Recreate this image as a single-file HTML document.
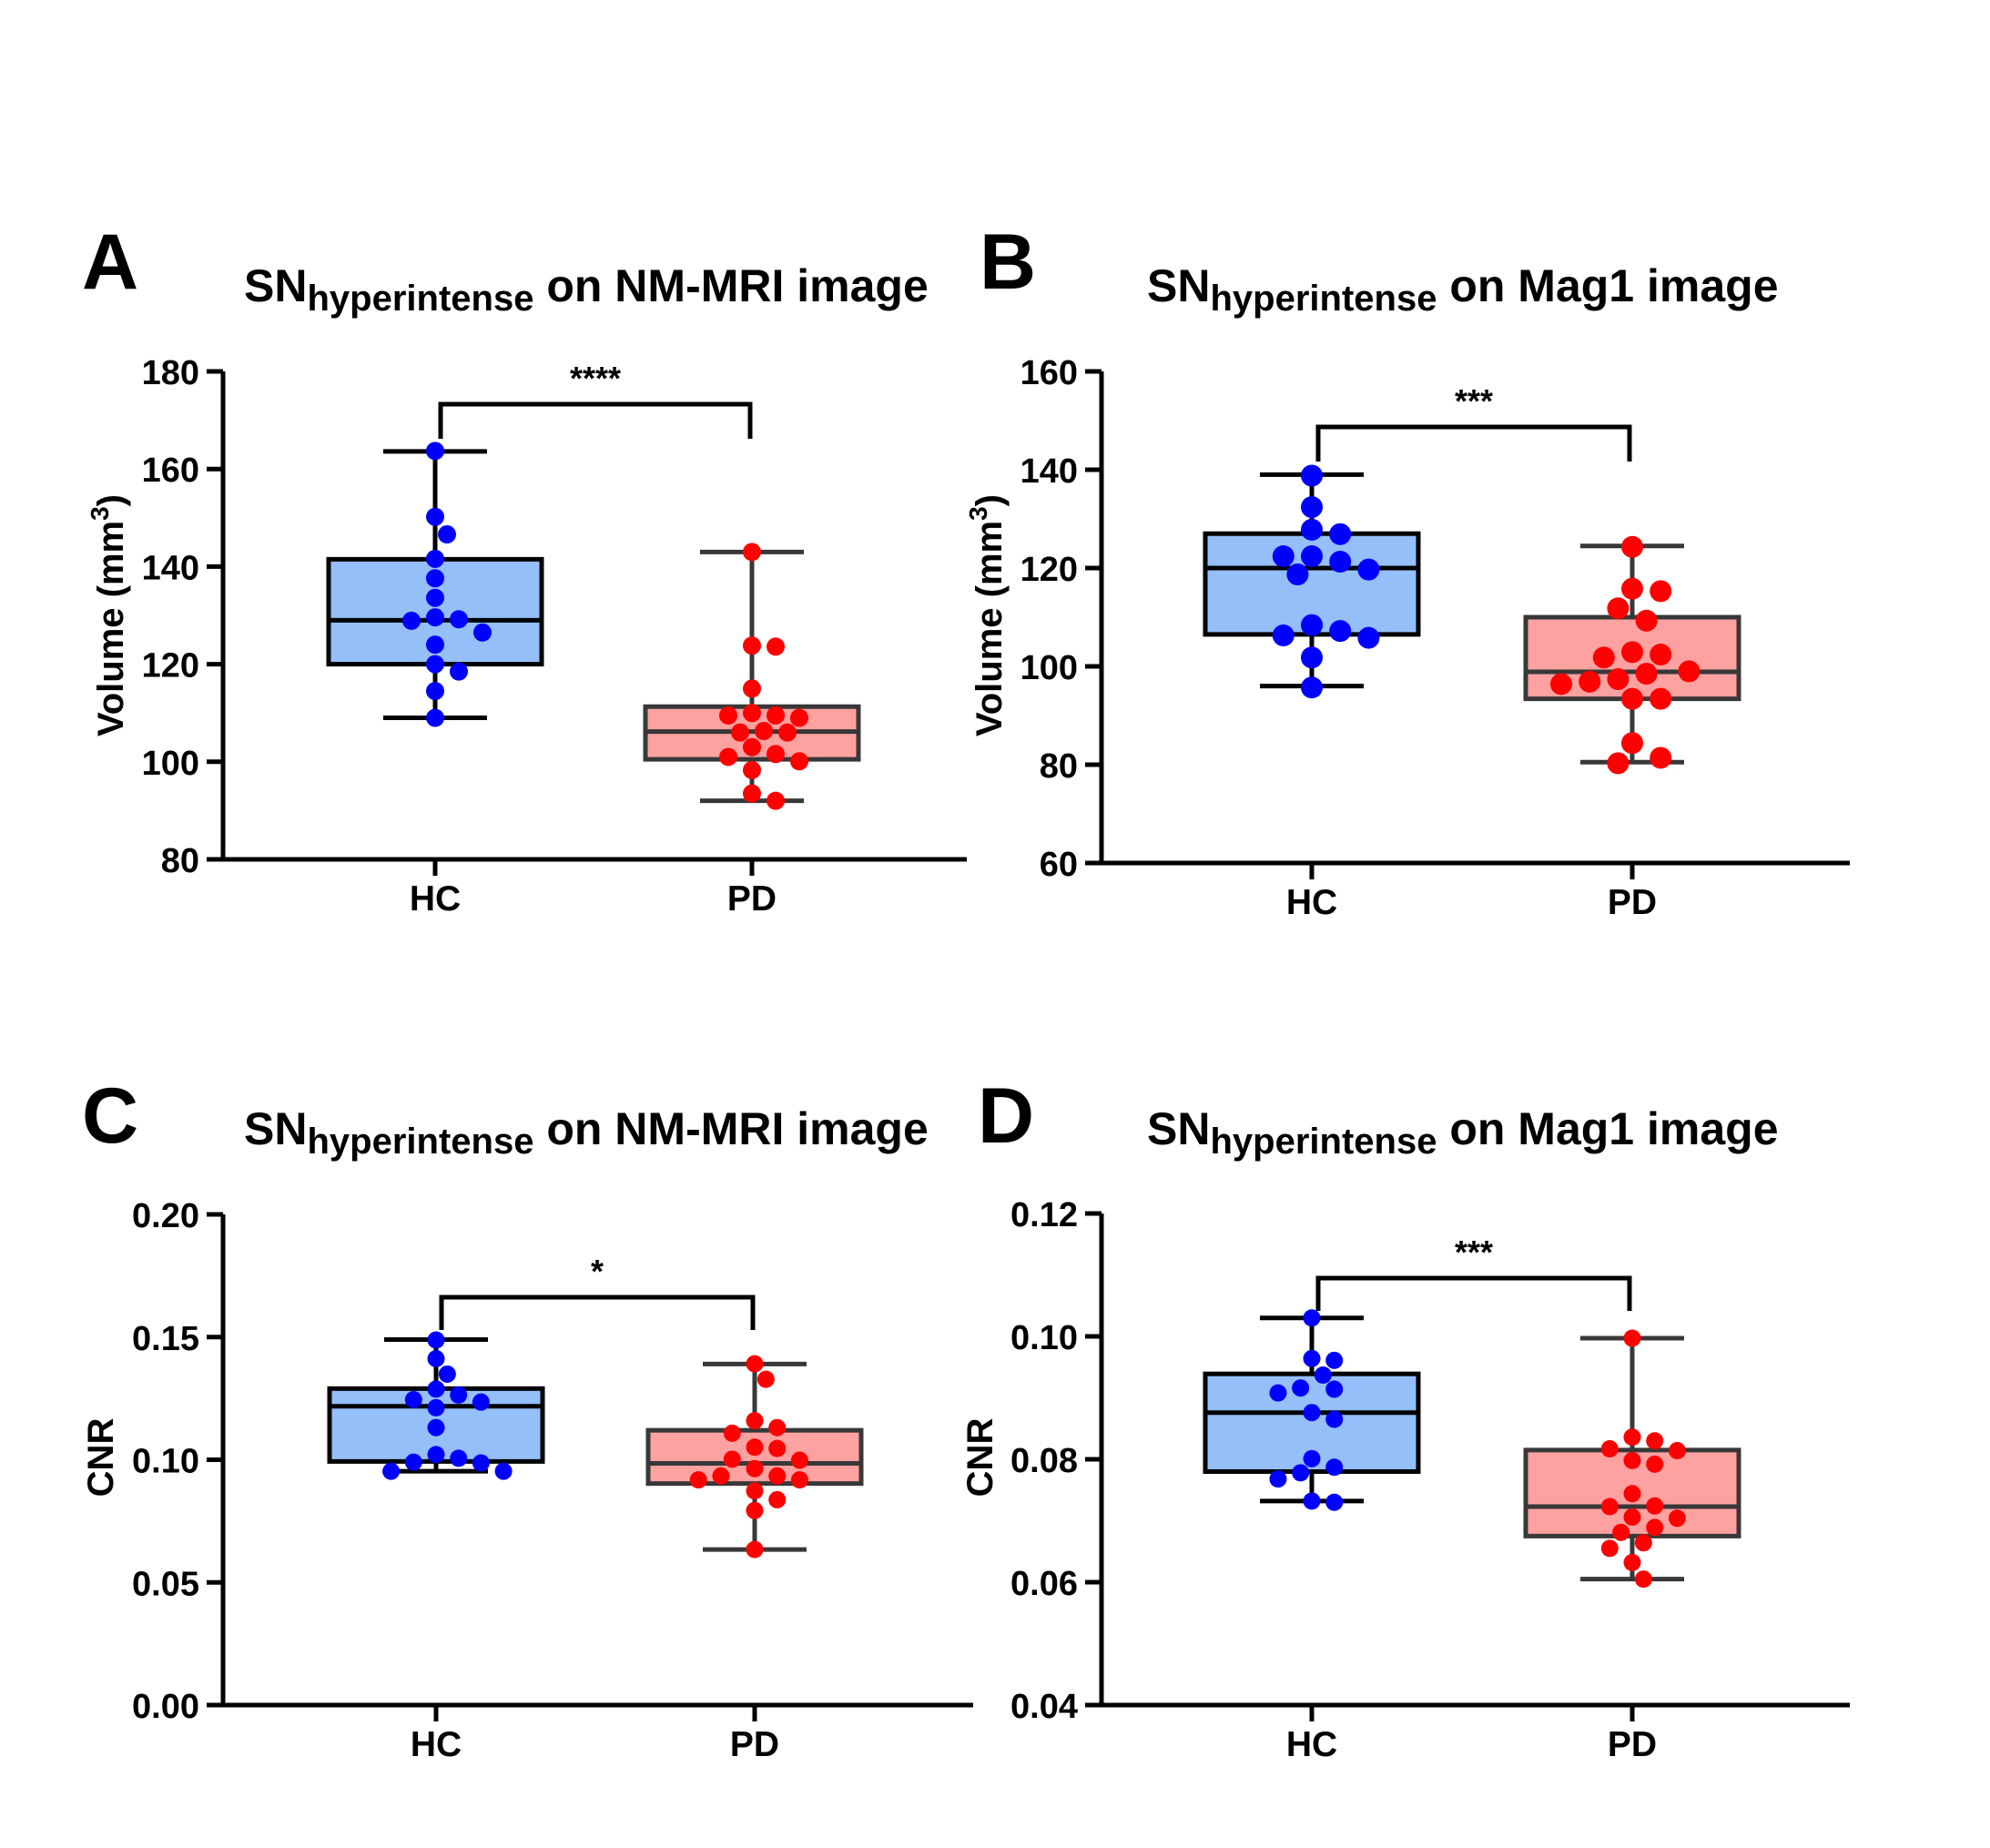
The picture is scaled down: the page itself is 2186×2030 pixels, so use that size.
<!DOCTYPE html>
<html><head><meta charset="utf-8"><style>
html,body{margin:0;padding:0;background:#fff;}
svg{display:block;font-family:"Liberation Sans",Arial,sans-serif;font-weight:bold;}
</style></head><body>
<svg id="fig" width="2186" height="2030" viewBox="0 0 2186 2030" xmlns="http://www.w3.org/2000/svg"></svg>
<script>
// ---- data ----
const groups = ["HC", "PD"];
const aTicks = [80, 100, 120, 140, 160, 180];
const aHC = [163.7,150.2,146.6,141.6,137.6,133.6,129.6,128.9,129.2,126.5,124.0,120.0,118.5,114.5,109.0];
const aPD = [143,123.6,123.8,115,110,109.5,109,109.5,106.3,106,106,103,101.6,100.1,101,98.3,93.5,92];
const aBoxHC = [109, 120, 129, 141.5, 163.6];
const aBoxPD = [92, 100.5, 106.2, 111.3, 143];
const bTicks = [60, 80, 100, 120, 140, 160];
const bHC = [138.8,132.4,127.8,126.9,122.4,121.3,122.4,118.7,119.7,108.4,106.3,105.8,107.2,101.8,95.7];
const bPD = [124.3,115.3,115.8,111.8,109.3,102.9,101.8,102.4,98.5,99,96.9,96.4,97.4,93.4,93.4,84.4,80.3,81.4];
const bBoxHC = [96, 106.5, 120, 127, 139];
const bBoxPD = [80.5, 93.4, 98.9, 110, 124.5];
const cTicks = [0, 0.05, 0.10, 0.15, 0.20];
const cTickLabels = ["0.00","0.05","0.10","0.15","0.20"];
const cHC = [0.1488,0.1412,0.1349,0.1288,0.1264,0.1235,0.1212,0.1245,0.1131,0.1006,0.0987,0.0990,0.1021,0.0953,0.0953];
const cPD = [0.1391,0.1328,0.1131,0.1159,0.1108,0.1051,0.1046,0.1002,0.0998,0.0964,0.0934,0.0918,0.0918,0.0934,0.0873,0.0837,0.0793,0.0634];
const cBoxHC = [0.0953, 0.0993, 0.1218, 0.1290, 0.1490];
const cBoxPD = [0.0634, 0.0903, 0.0985, 0.1120, 0.1390];
const dTicks = [0.04, 0.06, 0.08, 0.10, 0.12];
const dTickLabels = ["0.04","0.06","0.08","0.10","0.12"];
const dHC = [0.1030,0.0961,0.0964,0.0937,0.0914,0.0908,0.0916,0.0876,0.0865,0.0801,0.0778,0.0787,0.0768,0.0730,0.0732];
const dPD = [0.0997,0.0836,0.0830,0.0817,0.0814,0.0792,0.0798,0.0744,0.0723,0.0724,0.0704,0.0706,0.0689,0.0681,0.0664,0.0655,0.0632,0.0605];
const dBoxHC = [0.0732, 0.0780, 0.0876, 0.0939, 0.1030];
const dBoxPD = [0.0605, 0.0675, 0.0723, 0.0815, 0.0997];

const NS = "http://www.w3.org/2000/svg";
const svg = document.getElementById("fig");
function mk(tag, attrs, parent) {
  const e = document.createElementNS(NS, tag);
  for (const k in attrs) e.setAttribute(k, attrs[k]);
  (parent || svg).appendChild(e);
  return e;
}

function beeswarm(vals, yf, r) {
  const idx = vals.map((v, i) => i).sort((a, b) => vals[b] - vals[a]);
  const placed = [];
  const off = new Array(vals.length).fill(0);
  const step = r * 1.3, minD = r * 2.05;
  idx.forEach(i => {
    const y = yf(vals[i]);
    const cands = [0];
    for (let k = 1; k < 12; k++) { cands.push(k * step, -k * step); }
    for (const c of cands) {
      if (placed.every(p => Math.hypot(p.x - c, p.y - y) >= minD)) { off[i] = c; placed.push({x: c, y: y}); break; }
    }
  });
  return off;
}

function panel(cfg) {
  const g = mk("g", {});
  
  
  const y = v => cfg.y0 + (v - cfg.min) / (cfg.max - cfg.min) * (cfg.y1 - cfg.y0);
  const xs = [cfg.hcX, cfg.pdX];
  const L = mk("text", {x: cfg.letterX, y: cfg.letterY, "font-size": 86}, g);
  L.textContent = cfg.letter;
  
  
  const T = mk("text", {x: cfg.titleX, y: cfg.titleY, "font-size": 50}, g);
  
  
  const t1 = mk("tspan", {}, T); t1.textContent = "SN";
  const t2 = mk("tspan", {dy: 10, "font-size": 40}, T); t2.textContent = "hyperintense";
  const t3 = mk("tspan", {dy: -10}, T); t3.textContent = " " + cfg.title;
  const yt = mk("text", {x: 0, y: 0, "font-size": 40, "text-anchor": "middle",
    transform: `translate(${cfg.ytX},${cfg.ytY}) rotate(-90)`}, g);
  
  
  if (cfg.vol) {
    const a = mk("tspan", {}, yt); a.textContent = "Volume (mm";
    const b = mk("tspan", {dy: -16, "font-size": 28}, yt); b.textContent = "3";
    const c = mk("tspan", {dy: 16}, yt); c.textContent = ")";
  } else yt.textContent = "CNR";
  const ax = mk("path", {d: `M${cfg.ax},${cfg.y1 - 1}V${cfg.y1}H${cfg.xEnd}M${cfg.ax},${cfg.y1}V${cfg.y0}`, stroke: "#000", "stroke-width": 5, fill: "none"}, g);
  
  
  cfg.ticks.forEach((t, i) => {
    const yy = y(t);
    const tk = mk("line", {x1: cfg.ax - 18, x2: cfg.ax, y1: yy, y2: yy, stroke: "#000", "stroke-width": 5}, g);
    
    
    const tl = mk("text", {x: cfg.ax - 26, y: yy + 14, "font-size": 38, "text-anchor": "end"}, g);
    tl.textContent = cfg.labels ? cfg.labels[i] : String(t);
    
    
  });
  groups.forEach((gn, i) => {
    const tk = mk("line", {x1: xs[i], x2: xs[i], y1: cfg.y1, y2: cfg.y1 + 18, stroke: "#000", "stroke-width": 5}, g);
    
    
    const tl = mk("text", {x: xs[i], y: cfg.y1 + 56, "font-size": 39, "text-anchor": "middle"}, g);
    tl.textContent = gn;
    
    
  });
  const boxes = [cfg.boxHC, cfg.boxPD];
  const fills = ["#94bff8", "#fea1a1"];
  const strokes = ["#000", "#383838"];
  boxes.forEach((b, i) => {
    const x = xs[i];
    const bg = mk("g", {stroke: strokes[i], "stroke-width": 5, fill: "none"}, g);
    
    
    mk("line", {x1: x, x2: x, y1: y(b[0]), y2: y(b[4])}, bg);
    mk("line", {x1: x - 57, x2: x + 57, y1: y(b[0]), y2: y(b[0])}, bg);
    mk("line", {x1: x - 57, x2: x + 57, y1: y(b[4]), y2: y(b[4])}, bg);
    mk("rect", {x: x - 117, y: y(b[3]), width: 234, height: y(b[1]) - y(b[3]), fill: fills[i]}, bg);
    mk("line", {x1: x - 117, x2: x + 117, y1: y(b[2]), y2: y(b[2])}, bg);
  });
  const sets = [cfg.hc, cfg.pd];
  const dc = ["#0000ff", "#ff0000"];
  sets.forEach((vals, i) => {
    const off = beeswarm(vals, y, cfg.r);
    vals.forEach((v, j) => {
      const c = mk("circle", {cx: xs[i] + off[j], cy: y(v), r: cfg.r, fill: dc[i]}, g);
      
      
    });
  });
  const br = mk("path", {d: `M${cfg.brL},${cfg.brLeg}V${cfg.brY}H${cfg.brR}V${cfg.brLeg}`, stroke: "#000", "stroke-width": 5, fill: "none"}, g);
  
  
  const st = mk("text", {x: (cfg.brL + cfg.brR) / 2, y: cfg.brY - 16, "font-size": 36, "text-anchor": "middle"}, g);
  st.textContent = cfg.stars;
  
  
}

panel({name: "panel-a", letter: "A", letterX: 90, letterY: 317, titleX: 268, titleY: 331, title: "on NM-MRI image",
  vol: true, ytX: 135, ytY: 676, ax: 245, y0: 408, y1: 944, xEnd: 1062, min: 180, max: 80,
  ticks: aTicks, hcX: 478, pdX: 826, boxHC: aBoxHC, boxPD: aBoxPD, hc: aHC, pd: aPD, r: 10,
  brL: 484, brR: 824, brY: 444, brLeg: 482, stars: "****"});
panel({name: "panel-b", letter: "B", letterX: 1076, letterY: 317, titleX: 1260, titleY: 331, title: "on Mag1 image",
  vol: true, ytX: 1100, ytY: 676, ax: 1210, y0: 408, y1: 948, xEnd: 2032, min: 160, max: 60,
  ticks: bTicks, hcX: 1441, pdX: 1793, boxHC: bBoxHC, boxPD: bBoxPD, hc: bHC, pd: bPD, r: 12,
  brL: 1448, brR: 1790, brY: 469, brLeg: 507, stars: "***"});
panel({name: "panel-c", letter: "C", letterX: 90, letterY: 1255, titleX: 268, titleY: 1257, title: "on NM-MRI image",
  vol: false, ytX: 124, ytY: 1601, ax: 245, y0: 1334, y1: 1873, xEnd: 1069, min: 0.20, max: 0,
  ticks: cTicks, labels: cTickLabels, hcX: 479, pdX: 829, boxHC: cBoxHC, boxPD: cBoxPD, hc: cHC, pd: cPD, r: 9.5,
  brL: 485, brR: 827, brY: 1425, brLeg: 1461, stars: "*"});
panel({name: "panel-d", letter: "D", letterX: 1074, letterY: 1255, titleX: 1260, titleY: 1257, title: "on Mag1 image",
  vol: false, ytX: 1090, ytY: 1601, ax: 1210, y0: 1333, y1: 1873, xEnd: 2032, min: 0.12, max: 0.04,
  ticks: dTicks, labels: dTickLabels, hcX: 1441, pdX: 1793, boxHC: dBoxHC, boxPD: dBoxPD, hc: dHC, pd: dPD, r: 9.5,
  brL: 1448, brR: 1790, brY: 1404, brLeg: 1440, stars: "***"});
</script>
</body></html>
